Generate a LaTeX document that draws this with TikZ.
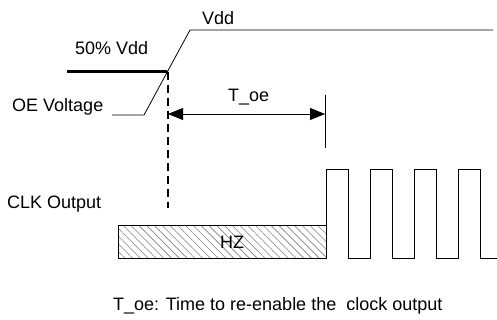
\documentclass[tikz,border=0pt]{standalone}
\usepackage{fontspec}
\setmainfont{Liberation Sans}
\usetikzlibrary{arrows.meta, patterns.meta}

\begin{document}
\begin{tikzpicture}[
		x=1pt, y=-1pt,
		>=Triangle,
		font=\fontsize{18}{21}\selectfont,
		wave/.style={draw=black, line width=0.8pt},
		label/.style={inner sep=0pt, anchor=base west},
		marker/.style={draw=black, line width=1.1pt, dash pattern=on 8pt off 5pt},
		span/.style={<->, line width=0.8pt, >={Triangle[length=15pt, width=12pt]}}
		]
		\useasboundingbox (0,0) rectangle (497,320);
		
		% Labels
		\node[label] (vdd) at (202,25) {Vdd};
		\node[label] (half) at (75,55) {50\% Vdd};
		\node[label] (oe) at (12,112) {OE Voltage};
		\node[label] (clk) at (7,208) {CLK Output};
		\node[label] (toe) at (228,102) {T\_oe};
		\node[label] (note) at (113,310) {T\_oe: Time to re-enable the \ clock output};
		
		% OE voltage ramp
		\draw[wave] (112,115) -- (144,115) -- (190,30) -- (493,30);
		\draw[line width=3pt] (67,72) -- (167,72);
		\draw[marker] (168,72) -- (168,208);
		
		% Enable time
		\coordinate (start) at (168,114);
		\coordinate (stop) at (325,114);
		\draw[wave] (325,95) -- (325,148);
		\draw[span] (start) -- (stop);
		
		% High impedance region
		\draw[wave, pattern={Lines[angle=-45, distance=5.5pt, line width=0.6pt]}, pattern color=black!50]
			(118,225) rectangle (326,258);
		\node (hz) at (232,242) {HZ};
		
		% Clock
		\draw[wave] (326,225) -- (326,169)
			\foreach \t in {0,1,2} {
				-- ++(22,0) -- ++(0,89) -- ++(22,0) -- ++(0,-89)
			}
			-- (480,169) -- (480,258) -- (497,258);
		
\end{tikzpicture}
\end{document}
